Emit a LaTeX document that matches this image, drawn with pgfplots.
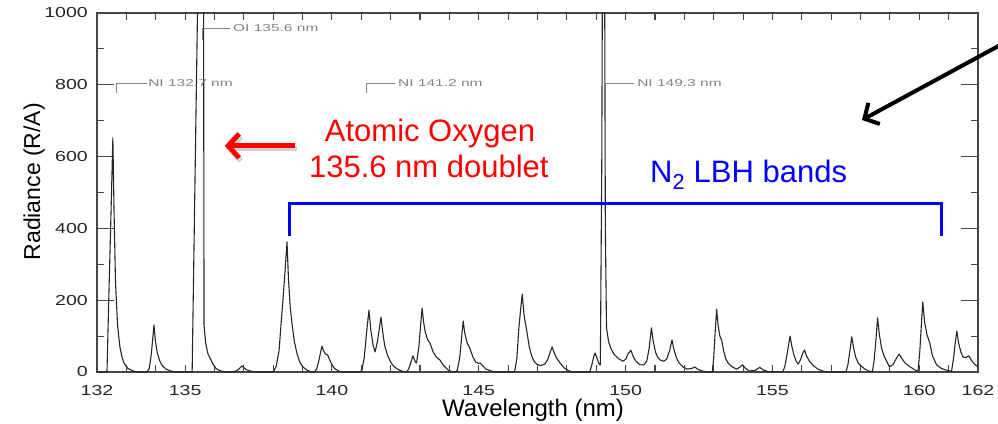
\documentclass[border=0pt]{standalone}
\usepackage{pgfplots}
\pgfplotsset{compat=1.18}
\usepackage{fontspec}
\setmainfont{Liberation Sans}
\newfontfamily\tickfont[FakeStretch=1.35]{Liberation Sans}
\newfontfamily\annfont[FakeStretch=1.55]{Liberation Sans}
\usetikzlibrary{arrows.meta}
\definecolor{axgray}{RGB}{70,70,70}
\definecolor{anngray}{RGB}{130,130,130}
\definecolor{pptred}{RGB}{255,0,0}
\definecolor{pptblue}{RGB}{0,0,255}
\begin{document}
\begin{tikzpicture}
\useasboundingbox (-97pt,-51pt) rectangle (901pt,372pt);
\begin{axis}[
  at={(0pt,0pt)}, anchor=south west,
  scale only axis, width=881pt, height=359pt,
  xmin=132, xmax=162, ymin=0, ymax=1000,
  clip mode=individual,
  axis line style={axgray, line width=1.1pt},
  tick style={axgray, line width=1.1pt},
  major tick length=7pt,
  xtick={132,...,162},
  xticklabels={132,,,135,,,,,140,,,,,145,,,,,150,,,,,155,,,,,160,,162},
  ytick={100,300,500,700,900},
  yticklabels={},
  extra y ticks={0,200,400,600,800,1000},
  extra y tick labels={0,200,400,600,800,1000},
  extra y tick style={major tick length=17pt},
  xticklabel style={font=\tickfont\fontsize{14.5}{14.5}\selectfont, text=black!85, anchor=base, inner sep=0pt, yshift=-23pt},
  yticklabel style={font=\tickfont\fontsize{14.5}{14.5}\selectfont, text=black!85, anchor=east, inner sep=0pt, xshift=-9pt},
  xlabel={Wavelength (nm)},
  ylabel={Radiance (R/A)},
  xlabel style={font=\fontsize{24}{24}\selectfont, at={(axis description cs:0.495,-0.1253)}, anchor=base},
  ylabel style={font=\fontsize{23}{23}\selectfont, at={(axis description cs:-0.0647,0.53)}, anchor=base, rotate=0},
]
\addplot[black!85, line width=1.1pt, line join=round] coordinates {
(132.00,0) (132.34,0) (132.40,200) (132.47,420) (132.54,652) (132.58,450) (132.63,250) (132.70,130) (132.78,70) (132.85,42) (132.92,25) (133.05,10) (133.25,2) (133.40,0)
(133.70,0) (133.78,10) (133.85,50) (133.94,131) (133.99,85) (134.05,55) (134.13,32) (134.22,18) (134.35,8) (134.50,3) (134.65,0)
(135.24,0) (135.44,1100) (135.50,1600) (135.62,1600) (135.645,130) (135.70,80) (135.78,50) (135.85,39) (135.95,22) (136.05,10) (136.20,3) (136.40,0)
(136.60,0) (136.75,3) (136.85,10) (136.94,17) (137.00,12) (137.10,6) (137.25,2) (137.40,0)
(138.00,0) (138.10,15) (138.20,60) (138.27,136) (138.35,220) (138.42,300) (138.47,362) (138.52,260) (138.58,180) (138.64,136) (138.72,85) (138.80,55) (138.90,28) (139.00,15) (139.15,5) (139.30,0)
(139.40,0) (139.48,8) (139.55,30) (139.66,72) (139.72,58) (139.78,50) (139.85,48) (139.92,35) (140.00,20) (140.10,9) (140.25,2) (140.40,0)
(140.95,0) (141.02,5) (141.10,40) (141.18,110) (141.26,172) (141.32,120) (141.40,75) (141.47,56) (141.55,85) (141.62,125) (141.67,153) (141.73,110) (141.80,72) (141.90,45) (142.00,28) (142.10,16) (142.25,7) (142.40,2) (142.55,0)
(142.62,10) (142.70,30) (142.76,45) (142.84,28) (142.88,25) (142.96,70) (143.02,130) (143.07,178) (143.12,140) (143.18,110) (143.26,90) (143.34,80) (143.45,55) (143.55,42) (143.68,33) (143.80,18) (143.95,6) (144.10,0)
(144.20,0) (144.27,5) (144.35,40) (144.42,100) (144.47,142) (144.52,110) (144.60,82) (144.70,65) (144.80,42) (144.90,27) (145.00,24) (145.05,25) (145.12,18) (145.25,8) (145.45,2) (145.60,0)
(146.22,0) (146.30,40) (146.36,117) (146.42,170) (146.48,217) (146.54,160) (146.63,117) (146.72,70) (146.80,45) (146.88,30) (146.97,22) (147.10,18) (147.25,22) (147.35,35) (147.43,55) (147.50,70) (147.56,55) (147.64,40) (147.77,25) (147.90,12) (148.05,4) (148.20,0)
(148.78,0) (148.85,20) (148.92,45) (148.96,53) (149.02,40) (149.10,22) (149.14,20) (149.19,600) (149.23,1600) (149.27,1600) (149.31,400) (149.35,123) (149.42,85) (149.50,65) (149.60,50) (149.75,38) (149.90,30)
(150.00,35) (150.08,50) (150.18,61) (150.25,45) (150.35,30) (150.49,20) (150.62,20) (150.72,30) (150.80,65) (150.88,123) (150.94,85) (151.02,55) (151.10,40) (151.20,32) (151.30,30) (151.40,36) (151.50,60) (151.58,89) (151.64,65) (151.72,42) (151.82,25) (151.96,14) (152.10,8) (152.25,10) (152.36,14) (152.45,8) (152.60,3) (152.80,0)
(152.95,0) (153.00,40) (153.05,110) (153.10,175) (153.15,130) (153.21,100) (153.27,89) (153.35,55) (153.42,35) (153.50,24) (153.62,15) (153.78,8) (153.90,14) (153.98,20) (154.06,12) (154.20,3) (154.40,4) (154.57,13) (154.68,6) (154.85,1) (155.30,0)
(155.35,0) (155.42,15) (155.50,50) (155.60,100) (155.66,72) (155.74,45) (155.82,28) (155.88,22) (155.96,35) (156.03,52) (156.09,61) (156.16,45) (156.26,30) (156.39,18) (156.55,8) (156.70,3) (156.85,0)
(157.50,0) (157.57,20) (157.64,60) (157.70,98) (157.76,68) (157.84,40) (157.92,25) (158.00,18) (158.15,8) (158.30,2) (158.40,0)
(158.46,30) (158.52,85) (158.58,151) (158.64,105) (158.72,65) (158.80,45) (158.87,33) (158.98,15) (159.10,20) (159.20,35) (159.31,50) (159.40,38) (159.52,25) (159.69,14) (159.85,6) (159.96,2)
(160.02,60) (160.07,130) (160.12,195) (160.18,140) (160.26,105) (160.36,80) (160.45,45) (160.59,20) (160.75,10) (160.93,5) (161.10,2)
(161.17,40) (161.23,85) (161.28,114) (161.34,80) (161.42,55) (161.49,42) (161.58,40) (161.69,45) (161.78,32) (161.88,22) (162.00,14)
};
% line identifications
\draw[anngray, line width=0.9pt] (axis cs:132.65,777) -- (axis cs:132.65,805) -- (axis cs:133.70,805);
\node[anngray, anchor=west, inner sep=0pt, font=\annfont\fontsize{10}{10}\selectfont] at (axis cs:133.74,805) {NI 132.7 nm};
\draw[anngray, line width=0.9pt] (axis cs:135.58,925) -- (axis cs:135.58,958) -- (axis cs:136.53,958);
\node[anngray, anchor=west, inner sep=0pt, font=\annfont\fontsize{10}{10}\selectfont] at (axis cs:136.63,958) {OI 135.6 nm};
\draw[anngray, line width=0.9pt] (axis cs:141.16,777) -- (axis cs:141.16,805) -- (axis cs:142.15,805);
\node[anngray, anchor=west, inner sep=0pt, font=\annfont\fontsize{10}{10}\selectfont] at (axis cs:142.25,805) {NI 141.2 nm};
\draw[anngray, line width=0.9pt] (axis cs:149.30,805) -- (axis cs:150.28,805);
\node[anngray, anchor=west, inner sep=0pt, font=\annfont\fontsize{10}{10}\selectfont] at (axis cs:150.39,805) {NI 149.3 nm};
% callouts
\node[pptred, anchor=base, inner sep=0pt, font=\fontsize{31}{31}\selectfont] at (axis cs:143.34,641) {Atomic Oxygen};
\node[pptred, anchor=base, inner sep=0pt, font=\fontsize{31}{31}\selectfont] at (axis cs:143.30,543) {135.6 nm doublet};
\node[pptblue, anchor=base west, inner sep=0pt, font=\fontsize{31}{31}\selectfont] at (axis cs:150.83,527) {N\textsubscript{2} LBH bands};
\draw[pptblue, line width=3pt] (axis cs:138.54,379) -- (axis cs:138.54,468) -- (axis cs:160.74,468) -- (axis cs:160.74,379);
\draw[black!30, opacity=0.6, line width=5pt, -{Straight Barb[length=11pt,width=24pt]}] ([xshift=2pt,yshift=-3pt]axis cs:138.74,630) -- ([xshift=2pt,yshift=-3pt]axis cs:136.35,630);
\draw[pptred, line width=5pt, -{Straight Barb[length=11pt,width=24pt]}] (axis cs:138.74,630) -- (axis cs:136.35,630);
\draw[black, line width=4pt, -{Straight Barb[length=11pt,width=24pt]}] (axis cs:163.26,933) -- (axis cs:158.05,702);
\end{axis}
\end{tikzpicture}
\end{document}
